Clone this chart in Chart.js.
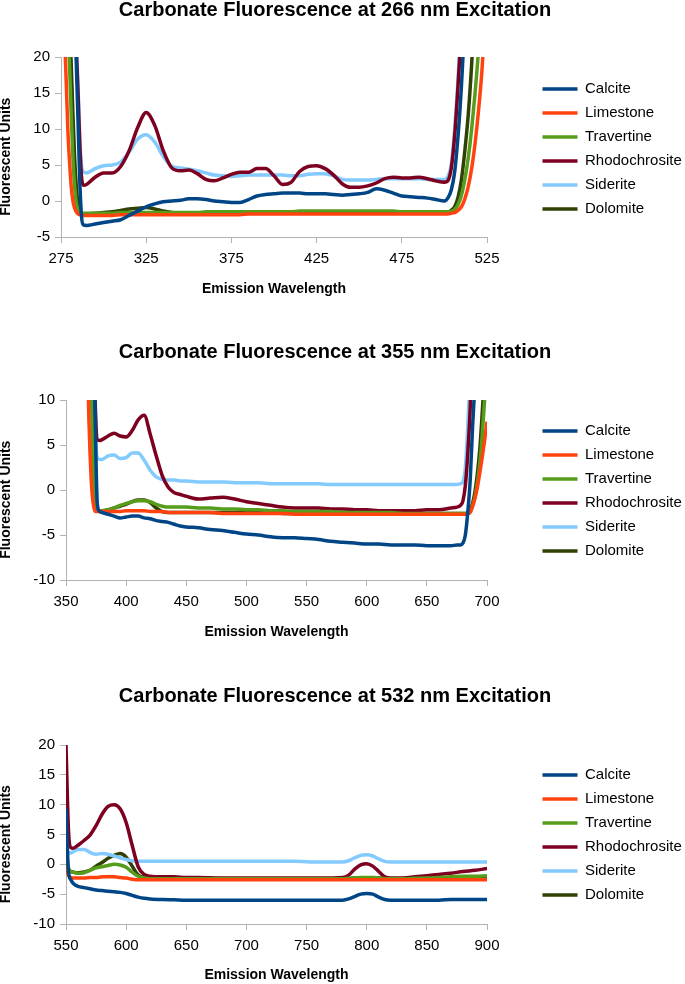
<!DOCTYPE html>
<html>
<head>
<meta charset="utf-8">
<script src="https://cdn.jsdelivr.net/npm/chart.js@4.4.0/dist/chart.umd.min.js"></script>
<style>
  html, body { margin: 0; padding: 0; background: #fff; overflow: hidden; }
  .chart-box { position: absolute; left: 0; width: 685px; height: 298px; }
</style>
</head>
<body>
<div class="chart-box" style="top:0px"><canvas id="chart266"></canvas></div>
<div class="chart-box" style="top:342px"><canvas id="chart355"></canvas></div>
<div class="chart-box" style="top:686px"><canvas id="chart532"></canvas></div>
<script>
const minerals = ['Calcite', 'Limestone', 'Travertine', 'Rhodochrosite', 'Siderite', 'Dolomite']
const colors = ['#004586', '#ff420e', '#579d1c', '#7e0021', '#83caff', '#314004']

// 266 nm excitation
const wl266 = [276, 277, 278, 279, 280, 281, 282, 283, 284, 285, 286, 287, 288, 290,
  295, 300, 305, 310, 315, 320, 325, 330, 335, 340, 345, 350, 355, 360, 365, 370, 375, 380, 385, 390, 395, 400,
  405, 410, 415, 420, 425, 430, 435, 440, 445, 450, 455, 460, 465, 470, 475, 480, 485, 490, 495, 500,
  502, 504, 506, 508, 510, 512, 514, 516, 518, 520, 522, 524]
const calcite266 = [60, 55, 50, 45, 40, 35, 30, 25, 19, 11, 3, -2, -3.3, -3.4,
  -3.2, -3.0, -2.8, -2.6, -2.0, -1.4, -0.8, -0.4, -0.1, 0.0, 0.1, 0.3, 0.3, 0.2, 0.0, -0.1, -0.2, -0.2, 0.2, 0.7, 0.9, 1.0,
  1.1, 1.1, 1.1, 1.0, 1.0, 1.0, 0.9, 0.8, 0.9, 1.0, 1.2, 1.7, 1.5, 1.1, 0.7, 0.6, 0.5, 0.4, 0.2, 0.0,
  0.4, 1.5, 4, 9, 16, 25, 35, 45, 55, 65, 75, 85]
const limestone266 = [35, 24, 17, 10, 5.5, 2, 0, -1.0, -1.5, -1.8, -1.9, -2.0, -2.0, -2.0,
  -2.0, -2.0, -2.0, -1.9, -1.9, -1.9, -1.9, -1.9, -1.9, -1.9, -1.9, -1.9, -1.9, -1.9, -1.9, -1.9, -1.9, -1.9, -1.8, -1.8, -1.8, -1.8,
  -1.8, -1.8, -1.8, -1.8, -1.8, -1.8, -1.8, -1.8, -1.8, -1.8, -1.8, -1.8, -1.8, -1.8, -1.8, -1.8, -1.8, -1.8, -1.8, -1.8,
  -1.8, -1.7, -1.6, -1.3, -0.8, 0.3, 2.0, 4.5, 8.0, 12.5, 18.0, 26]
const travertine266 = [45, 38, 30, 24, 19, 12, 6, 2, -0.3, -1.2, -1.6, -1.7, -1.7, -1.7,
  -1.7, -1.7, -1.7, -1.6, -1.6, -1.6, -1.6, -1.6, -1.6, -1.6, -1.6, -1.6, -1.6, -1.5, -1.5, -1.5, -1.5, -1.5, -1.5, -1.5, -1.5, -1.5,
  -1.5, -1.5, -1.4, -1.4, -1.4, -1.4, -1.4, -1.4, -1.4, -1.4, -1.4, -1.4, -1.4, -1.4, -1.5, -1.5, -1.5, -1.5, -1.5, -1.5,
  -1.5, -1.4, -1.2, -0.5, 0.8, 3, 6, 10, 15, 21, 30, 40]
const rhodochrosite266 = [60, 55, 50, 45, 40, 35, 30, 26, 21, 15, 8, 3.5, 2.2, 2.3,
  3.3, 3.9, 3.9, 4.8, 7.0, 10.2, 12.3, 10.5, 7.0, 4.6, 4.2, 4.3, 3.8, 3.0, 2.8, 3.2, 3.7, 4.0, 4.0, 4.5, 4.5, 3.5,
  2.3, 2.6, 4.1, 4.8, 4.9, 4.5, 3.6, 2.4, 1.9, 1.9, 2.1, 2.5, 3.1, 3.3, 3.2, 3.2, 3.3, 3.1, 2.8, 2.6,
  2.8, 4.5, 9, 16, 24, 34, 44, 54, 64, 74, 84, 94]
const siderite266 = [60, 55, 50, 45, 40, 35, 30, 26, 22, 16, 9, 5, 4.1, 3.9,
  4.5, 4.9, 5.0, 5.4, 6.8, 8.6, 9.2, 8.2, 6.2, 4.8, 4.6, 4.4, 4.2, 3.9, 3.6, 3.5, 3.4, 3.5, 3.6, 3.6, 3.6, 3.6,
  3.6, 3.5, 3.5, 3.7, 3.8, 3.8, 3.5, 3.0, 2.9, 2.9, 2.9, 3.0, 3.1, 3.1, 3.1, 3.1, 3.1, 3.0, 3.0, 3.0,
  3.4, 5, 10, 17, 26, 36, 46, 56, 66, 76, 86, 96]
const dolomite266 = [50, 44, 38, 32, 25, 19, 12, 6, 2, -0.5, -1.4, -1.7, -1.8, -1.8,
  -1.7, -1.6, -1.5, -1.3, -1.1, -1.0, -0.9, -1.1, -1.4, -1.6, -1.7, -1.7, -1.7, -1.7, -1.7, -1.7, -1.7, -1.7, -1.7, -1.7, -1.6, -1.6,
  -1.6, -1.6, -1.6, -1.6, -1.6, -1.6, -1.6, -1.6, -1.6, -1.6, -1.6, -1.6, -1.6, -1.6, -1.6, -1.6, -1.6, -1.6, -1.6, -1.6,
  -1.6, -1.3, -0.8, 0.5, 3, 7, 12, 19, 28, 40, 52, 64]
const xTicks266 = [275, 325, 375, 425, 475, 525]
const yTicks266 = [-5, 0, 5, 10, 15, 20]

// 355 nm excitation
const wl355 = [368, 369, 370, 371, 372, 373, 374, 375, 376, 378, 380,
  385, 390, 395, 400, 405, 410, 415, 420, 425, 430, 435, 440, 445, 450,
  460, 470, 480, 490, 500, 510, 520, 530, 540, 550, 560, 570, 580, 590, 600, 610, 620, 630, 640, 650, 660, 670,
  675, 678, 680, 682, 684, 686, 688, 690, 692, 694, 696, 698, 700]
const calcite355 = [44, 40, 36, 32, 28, 20, 10, 3, -1.5, -2.4, -2.5,
  -2.7, -2.9, -3.1, -3.0, -2.9, -2.9, -3.1, -3.2, -3.4, -3.5, -3.6, -3.8, -4.0, -4.1,
  -4.2, -4.4, -4.5, -4.7, -4.9, -5.0, -5.2, -5.3, -5.3, -5.4, -5.5, -5.7, -5.8, -5.9, -6.0, -6.0, -6.1, -6.1, -6.1, -6.2, -6.2, -6.2,
  -6.1, -6.1, -5.9, -5.0, -2.5, 1, 7, 12, 18, 24, 30, 36, 42]
const limestone355 = [14, 8, 4, 1, -0.8, -1.8, -2.3, -2.4, -2.4, -2.4, -2.4,
  -2.4, -2.4, -2.4, -2.3, -2.3, -2.3, -2.3, -2.4, -2.4, -2.4, -2.5, -2.5, -2.5, -2.5,
  -2.5, -2.5, -2.6, -2.6, -2.6, -2.6, -2.6, -2.6, -2.7, -2.7, -2.7, -2.7, -2.7, -2.7, -2.7, -2.7, -2.7, -2.7, -2.7, -2.7, -2.7, -2.7,
  -2.7, -2.7, -2.7, -2.7, -2.6, -2.5, -1.8, -0.9, 0.3, 1.9, 3.6, 5.5, 7.6]
const travertine355 = [40, 30, 20, 12, 6, 1.5, -1.0, -2.0, -2.2, -2.3, -2.3,
  -2.2, -2.0, -1.7, -1.5, -1.3, -1.2, -1.2, -1.3, -1.6, -1.8, -1.9, -1.9, -1.9, -1.9,
  -2.0, -2.0, -2.1, -2.1, -2.2, -2.2, -2.3, -2.3, -2.4, -2.4, -2.4, -2.4, -2.5, -2.5, -2.5, -2.5, -2.5, -2.6, -2.6, -2.6, -2.6, -2.6,
  -2.6, -2.6, -2.6, -2.6, -2.6, -2.4, -1.8, -0.8, 0.8, 3.0, 6.0, 10, 15]
const rhodochrosite355 = [50, 45, 40, 35, 30, 20, 11, 7, 5.6, 5.5, 5.6,
  6.0, 6.3, 6.0, 5.9, 6.6, 7.8, 8.3, 6.2, 3.8, 1.6, 0.3, -0.3, -0.5, -0.7,
  -1.0, -0.9, -0.8, -1.0, -1.3, -1.5, -1.7, -1.9, -2.0, -2.0, -2.0, -2.1, -2.1, -2.2, -2.2, -2.3, -2.3, -2.3, -2.3, -2.2, -2.2, -2.0,
  -1.9, -1.7, -1.2, 0.5, 4, 9, 16, 24, 32, 40, 48, 56, 64]
const siderite355 = [50, 45, 40, 35, 30, 22, 12, 5, 3.6, 3.4, 3.4,
  3.8, 3.9, 3.5, 3.6, 4.1, 4.1, 3.3, 2.2, 1.45, 1.2, 1.1, 1.1, 1.0, 1.0,
  0.9, 0.9, 0.9, 0.8, 0.8, 0.8, 0.7, 0.7, 0.7, 0.7, 0.7, 0.6, 0.6, 0.6, 0.6, 0.6, 0.6, 0.6, 0.6, 0.6, 0.6, 0.6,
  0.6, 0.7, 0.9, 2.5, 7, 13, 20, 28, 36, 44, 52, 60, 68]
const dolomite355 = [45, 35, 25, 15, 8, 2.5, -0.8, -1.9, -2.2, -2.3, -2.3,
  -2.2, -2.0, -1.8, -1.6, -1.3, -1.1, -1.1, -1.4, -2.0, -2.4, -2.5, -2.5, -2.5, -2.5,
  -2.5, -2.5, -2.5, -2.5, -2.5, -2.5, -2.5, -2.6, -2.6, -2.6, -2.6, -2.6, -2.6, -2.6, -2.6, -2.6, -2.6, -2.6, -2.6, -2.6, -2.6, -2.6,
  -2.6, -2.6, -2.6, -2.6, -2.6, -2.3, -1.5, -0.2, 1.8, 4.5, 8.5, 13, 18]
const xTicks355 = [350, 400, 450, 500, 550, 600, 650, 700]
const yTicks355 = [-10, -5, 0, 5, 10]

// 532 nm excitation
const wl532 = [550, 552, 554, 556, 558, 560, 565, 570, 575, 580, 585, 590, 595, 600, 605, 610, 615, 620,
  630, 640, 650, 660, 680, 700, 720, 740, 760, 780,
  785, 790, 795, 800, 805, 810, 815, 820, 830, 840, 850, 860, 870, 880, 890, 900]
const calcite532 = [9.3, -1.0, -2.6, -3.2, -3.5, -3.7, -3.9, -4.1, -4.3, -4.4, -4.5, -4.6, -4.7, -4.9, -5.2, -5.5, -5.7, -5.8,
  -5.9, -5.95, -6.0, -6.0, -6.0, -6.0, -6.0, -6.0, -6.0, -6.0,
  -5.8, -5.4, -5.0, -4.9, -5.0, -5.5, -5.9, -6.0, -6.0, -6.0, -6.0, -6.0, -5.9, -5.9, -5.9, -5.9]
const limestone532 = [-0.3, -1.8, -2.2, -2.3, -2.3, -2.3, -2.3, -2.2, -2.2, -2.1, -2.1, -2.1, -2.2, -2.3, -2.5, -2.6, -2.6, -2.6,
  -2.6, -2.6, -2.6, -2.6, -2.6, -2.6, -2.6, -2.6, -2.6, -2.6,
  -2.6, -2.6, -2.6, -2.6, -2.6, -2.6, -2.6, -2.6, -2.6, -2.6, -2.6, -2.6, -2.6, -2.6, -2.6, -2.6]
const travertine532 = [2.1, -0.5, -1.2, -1.3, -1.4, -1.5, -1.4, -1.0, -0.6, -0.4, -0.2, 0.0, -0.1, -0.5, -1.3, -2.0, -2.3, -2.4,
  -2.4, -2.4, -2.4, -2.4, -2.4, -2.4, -2.4, -2.4, -2.4, -2.4,
  -2.35, -2.3, -2.2, -2.2, -2.2, -2.3, -2.4, -2.4, -2.4, -2.35, -2.3, -2.2, -2.1, -2.0, -2.0, -1.9]
const rhodochrosite532 = [20, 6, 2.8, 2.7, 2.9, 3.2, 4.0, 4.9, 6.5, 8.4, 9.7, 10.0, 9.3, 7.0, 3.2, -0.4, -1.7, -2.0,
  -2.1, -2.1, -2.2, -2.2, -2.3, -2.3, -2.3, -2.3, -2.3, -2.2,
  -1.8, -0.8, -0.1, 0.1, -0.3, -1.2, -2.1, -2.3, -2.3, -2.1, -1.9, -1.7, -1.5, -1.2, -1.0, -0.7]
const siderite532 = [2.2, 2.0, 1.9, 2.1, 2.3, 2.5, 2.5, 2.0, 1.7, 1.8, 1.7, 1.4, 1.1, 0.8, 0.6, 0.5, 0.5, 0.5,
  0.5, 0.5, 0.5, 0.5, 0.5, 0.5, 0.5, 0.5, 0.4, 0.4,
  0.6, 1.1, 1.5, 1.6, 1.4, 0.9, 0.5, 0.4, 0.4, 0.4, 0.4, 0.4, 0.4, 0.4, 0.4, 0.4]
const dolomite532 = [1.0, -0.8, -1.2, -1.3, -1.4, -1.4, -1.3, -1.0, -0.3, 0.3, 1.0, 1.5, 1.8, 1.2, -0.3, -1.8, -2.2, -2.3,
  -2.3, -2.3, -2.3, -2.3, -2.4, -2.4, -2.4, -2.4, -2.4, -2.4,
  -2.4, -2.3, -2.3, -2.3, -2.3, -2.3, -2.4, -2.4, -2.4, -2.3, -2.3, -2.3, -2.3, -2.2, -2.2, -2.2]
const xTicks532 = [550, 600, 650, 700, 750, 800, 850, 900]
const yTicks532 = [-10, -5, 0, 5, 10, 15, 20]

Chart.defaults.font.family = "'Liberation Sans', Arial, sans-serif"
Chart.defaults.color = '#000'

const boxHeight = 298
const legendFont = 15
const legendLine = 35
const legendPad = 9
const legendStart = 542.5 // x where the legend lines begin

// measure the legend (chart.js adds 10px to a vertical legend) so it lands where the reference has it
const measure = document.createElement('canvas').getContext('2d')
measure.font = `${legendFont}px 'Liberation Sans'`
const legendWidth = legendPad + legendLine + legendFont / 2 + 10 +
  Math.max(...minerals.map(m => measure.measureText(m).width))
const padRight = 685 - (legendStart - legendPad) - legendWidth
// the title sits a bit left of the page centre in the original
const padLeft = padRight - 15

const axisStyle = {
  grid: { display: true, drawOnChartArea: false, tickLength: 6, color: '#b3b3b3' },
  border: { color: '#b3b3b3' }
}

const renderChart = (canvasId, title, wl, series, xTicks, yTicks, geo) => {
  new Chart(document.getElementById(canvasId), {
    type: 'line',
    data: {
      datasets: minerals.map((name, i) => ({
        label: name,
        data: wl.map((w, j) => ({ x: w, y: series[i][j] })),
        borderColor: colors[i],
        backgroundColor: colors[i],
        borderWidth: 3.5,
        pointRadius: 0,
        cubicInterpolationMode: 'monotone',
        yAxisID: 'y'
      }))
    },
    options: {
      responsive: true,
      maintainAspectRatio: false,
      animation: false,
      layout: { padding: { left: padLeft, top: 0, bottom: 0, right: padRight } },
      plugins: {
        title: {
          display: true, text: title, color: '#000',
          font: { size: 20, weight: 'bold', lineHeight: 1 },
          padding: { top: 0, bottom: geo.top - 20 }
        },
        legend: {
          position: 'right',
          maxWidth: 300,
          labels: {
            usePointStyle: true, pointStyle: 'line', pointStyleWidth: legendLine,
            padding: legendPad, color: '#000', font: { size: legendFont }
          }
        },
        tooltip: { enabled: false }
      },
      scales: {
        x: {
          type: 'linear',
          min: xTicks[0], max: xTicks[xTicks.length - 1],
          afterBuildTicks: s => { s.ticks = xTicks.map(v => ({ value: v })) },
          afterFit: s => { s.height = boxHeight - geo.bottom },
          ...axisStyle,
          ticks: { color: '#000', font: { size: 15 }, padding: 7, maxRotation: 0, autoSkip: false },
          title: {
            display: true, text: 'Emission Wavelength', color: '#000',
            font: { size: 14, weight: 'bold' },
            padding: { top: 0, bottom: boxHeight - geo.xTitle - 8.4 }
          }
        },
        y: {
          type: 'linear',
          min: yTicks[0], max: yTicks[yTicks.length - 1],
          afterBuildTicks: s => { s.ticks = yTicks.map(v => ({ value: v })) },
          afterFit: s => { s.width = geo.left - padLeft },
          ...axisStyle,
          ticks: { color: '#000', font: { size: 15 }, padding: 5 },
          title: {
            display: true,
            // trailing spaces push the label a little below the plot centre, as in the original
            text: 'Fluorescent Units\u00a0\u00a0\u00a0\u00a0\u00a0',
            color: '#000',
            font: { size: 14, weight: 'bold' },
            padding: { top: -2 - padLeft, bottom: 0 }
          }
        },
        // empty axis that keeps the gap between plot and legend
        spacer: {
          type: 'linear', axis: 'y', position: 'right', display: true,
          grid: { display: false }, border: { display: false }, ticks: { display: false },
          afterFit: s => { s.width = legendStart - legendPad - geo.right }
        }
      }
    }
  })
}

renderChart('chart266', 'Carbonate Fluorescence at 266 nm Excitation', wl266,
  [calcite266, limestone266, travertine266, rhodochrosite266, siderite266, dolomite266],
  xTicks266, yTicks266, { left: 61, right: 487, top: 57, bottom: 237, xTitle: 289 })

renderChart('chart355', 'Carbonate Fluorescence at 355 nm Excitation', wl355,
  [calcite355, limestone355, travertine355, rhodochrosite355, siderite355, dolomite355],
  xTicks355, yTicks355, { left: 66, right: 487, top: 58, bottom: 238, xTitle: 290 })

renderChart('chart532', 'Carbonate Fluorescence at 532 nm Excitation', wl532,
  [calcite532, limestone532, travertine532, rhodochrosite532, siderite532, dolomite532],
  xTicks532, yTicks532, { left: 66, right: 487, top: 59, bottom: 238, xTitle: 289 })
</script>
</body>
</html>
